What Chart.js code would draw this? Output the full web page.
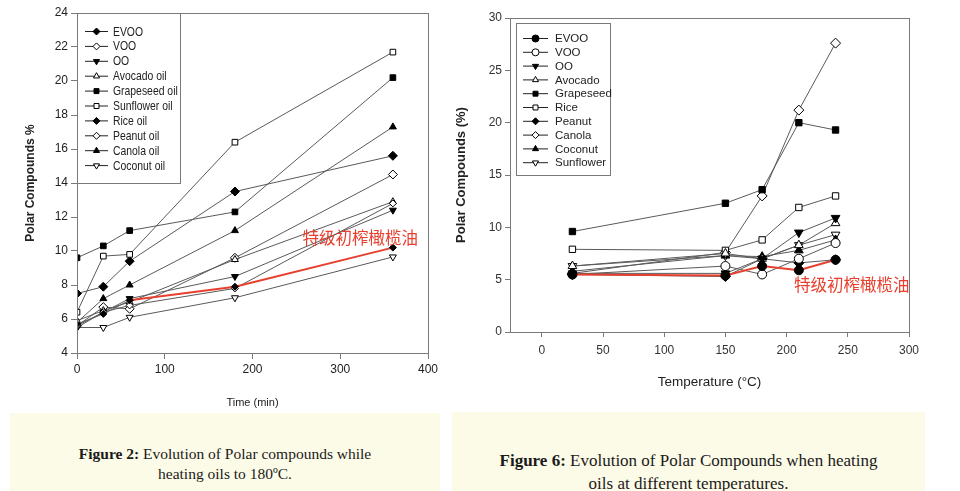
<!DOCTYPE html>
<html>
<head>
<meta charset="utf-8">
<script src="https://cdn.jsdelivr.net/npm/chart.js@4/dist/chart.umd.min.js"></script>
<style>
  body { margin: 0; width: 960px; height: 491px; background: #fff; position: relative; overflow: hidden; }
  #leftWrap { position: absolute; left: 0; top: 0; width: 450px; height: 410px; }
  #rightWrap { position: absolute; left: 450px; top: 0; width: 510px; height: 390px; }
  .caption { position: absolute; background: #fcfbe8; color: #1a1a1a; text-align: center; font-family: 'Liberation Serif', 'DejaVu Serif', serif; }
  .caption b { font-weight: bold; }
  #cap2 { left: 10px; top: 413px; width: 430px; height: 78px; font-size: 15.5px; line-height: 20px; }
  #cap2 div { padding-top: 31px; }
  #cap6 { left: 452px; top: 412px; width: 473px; height: 79px; font-size: 17px; line-height: 23px; }
  #cap6 div { padding-top: 37px; }
</style>
</head>
<body>
<div id="leftWrap"><canvas id="fig2" width="450" height="410"></canvas></div>
<div id="rightWrap"><canvas id="fig6" width="510" height="390"></canvas></div>
<div class="caption" id="cap2"><div><b>Figure 2:</b> Evolution of Polar compounds while<br>heating oils to 180ºC.</div></div>
<div class="caption" id="cap6"><div><b>Figure 6:</b> Evolution of Polar Compounds when heating<br>oils at different temperatures.</div></div>
<script>
// --- Figure 2 data (heating time, min) ---
const timeMin = [0, 30, 60, 180, 360];
const f2Evoo = [5.7, 6.3, 7.1, 7.9, 10.2];
const f2Voo = [5.6, 6.4, 6.8, 7.8, 12.8];
const f2Oo = [5.5, 6.4, 7.2, 8.5, 12.4];
const f2Avocado = [5.9, 6.5, 7.0, 9.5, 12.9];
const f2Grapeseed = [9.6, 10.3, 11.2, 12.3, 20.2];
const f2Sunflower = [6.4, 9.7, 9.8, 16.4, 21.7];
const f2Rice = [7.5, 7.9, 9.4, 13.5, 15.6];
const f2Peanut = [5.6, 6.7, 6.6, 9.6, 14.5];
const f2Canola = [5.8, 7.2, 8.0, 11.2, 17.3];
const f2Coconut = [5.5, 5.5, 6.1, 7.25, 9.65];
const f2XTicks = [0, 100, 200, 300, 400];
const f2YTicks = [4, 6, 8, 10, 12, 14, 16, 18, 20, 22, 24];

// --- Figure 6 data (temperature, °C) ---
const tempC = [25, 150, 180, 210, 240];
const f6Evoo = [5.5, 5.4, 6.3, 5.9, 6.9];
const f6Voo = [5.5, 6.3, 5.5, 7.0, 8.5];
const f6Oo = [5.6, 5.6, 7.0, 9.5, 10.9];
const f6Avocado = [6.3, 7.5, 7.0, 8.3, 10.4];
const f6Grapeseed = [9.6, 12.3, 13.6, 20.0, 19.3];
const f6Rice = [7.9, 7.8, 8.8, 11.9, 13.0];
const f6Peanut = [5.5, 5.3, 7.0, 6.6, 6.9];
const f6Canola = [5.6, 7.6, 13.0, 21.2, 27.6];
const f6Coconut = [5.8, 7.3, 7.2, 7.8, 8.8];
const f6Sunflower = [6.3, 7.3, 7.0, 8.3, 9.3];
const f6XTicks = [0, 50, 100, 150, 200, 250, 300];
const f6YTicks = [0, 5, 10, 15, 20, 25, 30];

const evooLabel = '特级初榨橄榄油';
const RED = '#e8402f';
const LINE = '#5a5a5a';
const FRAME = '#7a7a7a';
const narrow = "'Liberation Sans Narrow', 'Liberation Sans', Arial, sans-serif";
const arial = "'Liberation Sans', Arial, sans-serif";

function pts(xs, ys) {
    return xs.map((x, i) => ({ x: x, y: ys[i] }));
}

// marker: [pointStyle, filled, radius, rotation]
function series(label, xs, ys, marker, extra) {
    const [style, filled, r, rot] = marker;
    return Object.assign({
        label: label,
        data: pts(xs, ys),
        borderColor: LINE,
        borderWidth: 1,
        pointStyle: style,
        pointRadius: r,
        pointRotation: rot || 0,
        pointBackgroundColor: filled ? '#000' : '#fff',
        pointBorderColor: '#000',
        pointBorderWidth: 1,
        fill: false,
        tension: 0
    }, extra || {});
}

// frame on top/right, legend box, red annotation
const decorPlugin = {
    id: 'decor',
    afterDatasetsDraw(chart, args, opts) {
        const ctx = chart.ctx;
        const a = chart.chartArea;
        ctx.save();
        ctx.strokeStyle = FRAME;
        ctx.lineWidth = 1;
        ctx.strokeRect(Math.round(a.left) + 0.5, Math.round(a.top) + 0.5, Math.round(a.right - a.left), Math.round(a.bottom - a.top));

        // legend
        const lg = opts.legend;
        ctx.fillStyle = '#fff';
        ctx.fillRect(lg.x, lg.y, lg.w, lg.h);
        ctx.strokeRect(lg.x + 0.5, lg.y + 0.5, lg.w, lg.h);
        ctx.font = lg.font;
        ctx.textBaseline = 'middle';
        ctx.textAlign = 'left';
        chart.data.datasets.forEach((ds, i) => {
            const y = lg.firstY + i * lg.rowH;
            ctx.strokeStyle = '#222';
            ctx.beginPath();
            ctx.moveTo(lg.lineX0, y + 0.5);
            ctx.lineTo(lg.lineX1, y + 0.5);
            ctx.stroke();
            ctx.fillStyle = ds.pointBackgroundColor;
            ctx.strokeStyle = '#000';
            Chart.helpers.drawPoint(ctx, {
                pointStyle: ds.pointStyle,
                rotation: ds.pointRotation,
                radius: lg.markR,
                borderWidth: 1
            }, (lg.lineX0 + lg.lineX1) / 2, y + 0.5);
            ctx.fillStyle = '#222';
            // squeeze text to mimic the narrow face of the original
            ctx.save();
            ctx.translate(lg.textX, y + 1);
            ctx.scale(lg.scaleX || 1, 1);
            ctx.fillText(ds.label, 0, 0);
            ctx.restore();
        });

        // red annotation
        const an = opts.note;
        ctx.fillStyle = RED;
        ctx.font = "16.5px 'Noto Sans CJK SC', sans-serif";
        ctx.textAlign = 'left';
        ctx.textBaseline = 'middle';
        ctx.fillText(an.text, chart.scales.x.getPixelForValue(an.x), chart.scales.y.getPixelForValue(an.y));
        ctx.restore();
    }
};

function axisGrid(len) {
    return { drawOnChartArea: false, drawTicks: true, tickLength: len, color: FRAME };
}

// ---------- Figure 2 ----------
const f2Sets = [
    series('EVOO', timeMin, f2Evoo, ['rectRot', true, 3.5], {
        segment: {
            borderColor: c => c.p0DataIndex >= 2 ? RED : LINE,
            borderWidth: c => c.p0DataIndex >= 2 ? 2 : 1
        }
    }),
    series('VOO', timeMin, f2Voo, ['rectRot', false, 3.5]),
    series('OO', timeMin, f2Oo, ['triangle', true, 4, 180]),
    series('Avocado oil', timeMin, f2Avocado, ['triangle', false, 4]),
    series('Grapeseed oil', timeMin, f2Grapeseed, ['rect', true, 4]),
    series('Sunflower oil', timeMin, f2Sunflower, ['rect', false, 4]),
    series('Rice oil', timeMin, f2Rice, ['rectRot', true, 4.5]),
    series('Peanut oil', timeMin, f2Peanut, ['rectRot', false, 4.5]),
    series('Canola oil', timeMin, f2Canola, ['triangle', true, 4]),
    series('Coconut oil', timeMin, f2Coconut, ['triangle', false, 4, 180])
];

new Chart(document.getElementById('fig2'), {
    type: 'line',
    data: { datasets: f2Sets },
    plugins: [decorPlugin],
    options: {
        responsive: false,
        animation: false,
        layout: { padding: { top: 13, right: 22, left: 0, bottom: 0 } },
        plugins: {
            legend: { display: false },
            tooltip: { enabled: false },
            decor: {
                legend: { x: 77, y: 13, w: 103, h: 170, firstY: 31, rowH: 14.9, lineX0: 85, lineX1: 108, markR: 3.5, textX: 113, scaleX: 0.8, font: '13px ' + narrow },
                note: { text: evooLabel, x: 257, y: 10.8 }
            }
        },
        scales: {
            x: {
                type: 'linear', min: 0, max: 400,
                afterBuildTicks: s => { s.ticks = f2XTicks.map(v => ({ value: v })); },
                afterFit: s => { s.height = 57; },
                grid: axisGrid(6),
                border: { color: FRAME },
                ticks: { color: '#222', padding: 3, font: { family: narrow, size: 12 } },
                title: { display: true, text: 'Time (min)', color: '#222', padding: { top: 0, bottom: 0 }, font: { family: narrow, size: 11 } }
            },
            y: {
                type: 'linear', min: 4, max: 24,
                afterBuildTicks: s => { s.ticks = f2YTicks.map(v => ({ value: v })); },
                afterFit: s => { s.width = 77; },
                grid: axisGrid(6),
                border: { color: FRAME },
                ticks: { color: '#222', padding: 3, font: { family: narrow, size: 12 } },
                title: { display: true, text: 'Polar Compounds %', color: '#222', padding: { top: 23, bottom: 0 }, font: { family: arial, size: 12, weight: 'bold' } }
            }
        }
    }
});

// ---------- Figure 6 ----------
const f6Sets = [
    series('EVOO', tempC, f6Evoo, ['circle', true, 4.5], { borderColor: RED, borderWidth: 2 }),
    series('VOO', tempC, f6Voo, ['circle', false, 4.5]),
    series('OO', tempC, f6Oo, ['triangle', true, 5, 180]),
    series('Avocado', tempC, f6Avocado, ['triangle', false, 5]),
    series('Grapeseed', tempC, f6Grapeseed, ['rect', true, 4.5]),
    series('Rice', tempC, f6Rice, ['rect', false, 4.5]),
    series('Peanut', tempC, f6Peanut, ['rectRot', true, 5]),
    series('Canola', tempC, f6Canola, ['rectRot', false, 5]),
    series('Coconut', tempC, f6Coconut, ['triangle', true, 5]),
    series('Sunflower', tempC, f6Sunflower, ['triangle', false, 5, 180])
];

new Chart(document.getElementById('fig6'), {
    type: 'line',
    data: { datasets: f6Sets },
    plugins: [decorPlugin],
    options: {
        responsive: false,
        animation: false,
        layout: { padding: { top: 18, right: 51, left: 0, bottom: 0 } },
        plugins: {
            legend: { display: false },
            tooltip: { enabled: false },
            decor: {
                legend: { x: 66, y: 23, w: 94, h: 152, firstY: 38, rowH: 13.8, lineX0: 73, lineX1: 98, markR: 3.5, textX: 105, scaleX: 1, font: '11.5px ' + arial },
                note: { text: evooLabel, x: 206, y: 4.5 }
            }
        },
        scales: {
            x: {
                type: 'linear', min: -26, max: 300,
                afterBuildTicks: s => { s.ticks = f6XTicks.map(v => ({ value: v })); },
                afterFit: s => { s.height = 58; },
                grid: axisGrid(5),
                border: { color: FRAME },
                ticks: { color: '#333', padding: 6, font: { family: arial, size: 12 } },
                title: { display: true, text: 'Temperature (°C)', color: '#222', padding: { top: 4, bottom: 0 }, font: { family: arial, size: 13.5 } }
            },
            y: {
                type: 'linear', min: 0, max: 30,
                afterBuildTicks: s => { s.ticks = f6YTicks.map(v => ({ value: v })); },
                afterFit: s => { s.width = 60; },
                grid: axisGrid(5),
                border: { color: FRAME },
                ticks: { color: '#333', padding: 3, font: { family: arial, size: 12 } },
                title: { display: true, text: 'Polar Compounds (%)', color: '#222', padding: { top: 4, bottom: 0 }, font: { family: arial, size: 13, weight: 'bold' } }
            }
        }
    }
});
</script>
</body>
</html>
